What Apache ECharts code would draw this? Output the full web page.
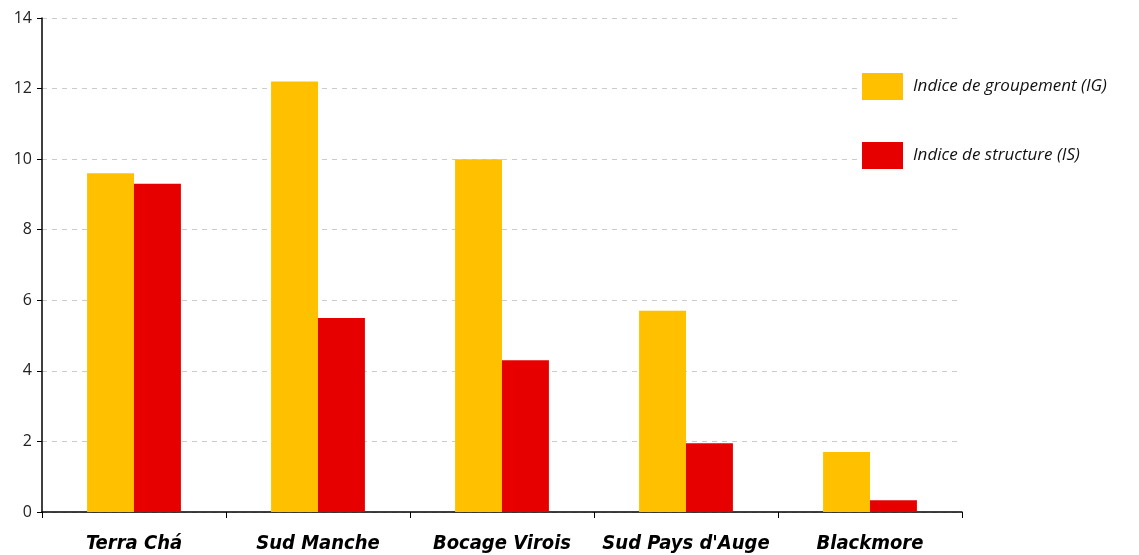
<!DOCTYPE html>
<html>
<head>
<meta charset="utf-8">
<script src="https://cdn.jsdelivr.net/npm/echarts@6/dist/echarts.min.js"></script>
<style>
html, body { margin: 0; padding: 0; background: #fff; }
#main { width: 1139px; height: 555px; }
</style>
</head>
<body>
<div id="main"></div>
<script>
var categories = ['Terra Chá', 'Sud Manche', 'Bocage Virois', "Sud Pays d'Auge", 'Blackmore'];
var igValues = [9.6, 12.2, 10.0, 5.7, 1.7];
var isValues = [9.3, 5.5, 4.3, 1.95, 0.33];
var yTicks = { min: 0, max: 14, interval: 2 };

var myChart = echarts.init(document.getElementById('main'));
var option = {
    animation: false,
    backgroundColor: '#fff',
    grid: {
        left: 42,
        right: 177,
        top: 18,
        bottom: 43
    },
    legend: {
        orient: 'vertical',
        left: 862,
        top: 73,
        icon: 'rect',
        itemWidth: 41,
        itemHeight: 27,
        itemGap: 42,
        padding: 0,
        backgroundColor: '#fff',
        textStyle: {
            fontFamily: 'Open Sans',
            fontStyle: 'italic',
            fontSize: 17,
            color: '#111',
            padding: [0, 0, 0, 5]
        },
        data: ['Indice de groupement (IG)', 'Indice de structure (IS)']
    },
    xAxis: {
        type: 'category',
        data: categories,
        axisLine: { lineStyle: { color: '#000', width: 1.5 } },
        axisTick: { show: true, length: 6, lineStyle: { color: '#000' } },
        axisLabel: {
            interval: 0,
            margin: 22,
            fontFamily: "'DejaVu Sans Condensed', 'Open Sans'",
            fontStyle: 'italic',
            fontWeight: 'bold',
            fontSize: 20,
            color: '#000'
        }
    },
    yAxis: {
        type: 'value',
        min: yTicks.min,
        max: yTicks.max,
        interval: yTicks.interval,
        axisLine: { show: true, lineStyle: { color: '#000', width: 1.5 } },
        axisTick: { show: true, length: 5, lineStyle: { color: '#000' } },
        axisLabel: {
            margin: 10,
            fontFamily: 'Open Sans',
            fontSize: 16,
            color: '#222'
        },
        splitLine: {
            show: true,
            lineStyle: { color: '#ccc', type: [5, 5] }
        }
    },
    series: [{
            name: 'Indice de groupement (IG)',
            type: 'bar',
            data: igValues,
            barGap: '0%',
            barCategoryGap: '49%',
            color: '#FFC000'
        },
        {
            name: 'Indice de structure (IS)',
            type: 'bar',
            data: isValues,
            color: '#E60000'
        }
    ]
};
myChart.setOption(option);
</script>
</body>
</html>
